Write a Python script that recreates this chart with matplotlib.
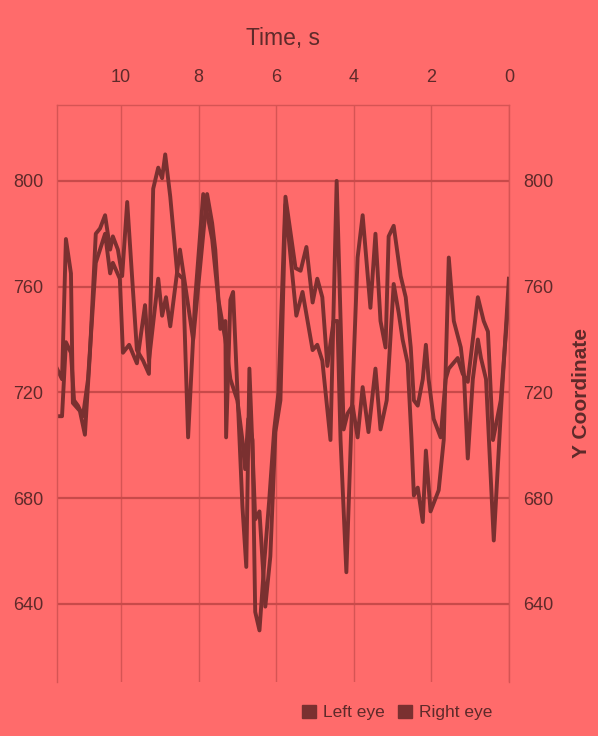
import matplotlib
matplotlib.use("Agg")
import matplotlib.pyplot as plt
from matplotlib.patches import Patch

plt.rcParams['font.family'] = ['Liberation Sans', 'DejaVu Sans']

# eye tracking, time in s / y coordinate in px
left_t = [0.00, 0.21, 0.39, 0.59, 0.72, 0.80, 0.93, 1.06, 1.16, 1.24, 1.42, 1.55, 1.68, 1.81,
          2.02, 2.14, 2.22, 2.35, 2.45, 2.51, 2.61, 2.74, 2.84, 2.97, 3.15, 3.31, 3.44, 3.62,
          3.77, 3.90, 4.03, 4.16, 4.26, 4.44, 4.60, 4.81, 4.94, 5.06, 5.19, 5.32, 5.48, 5.76,
          5.89, 6.02, 6.15, 6.28, 6.43, 6.54, 6.69, 6.77, 6.87, 7.11, 7.18, 7.29, 7.31, 7.44,
          7.57, 7.65, 7.78, 8.14, 8.48, 8.73, 8.84, 8.94, 9.04, 9.28, 9.38, 9.59, 9.79, 9.95,
          10.03, 10.21, 10.28, 10.41, 10.65, 10.85, 10.98, 11.11, 11.21, 11.29, 11.42, 11.52, 11.65]
left_y = [763, 712, 664, 725, 733, 740, 725, 695, 727, 737, 747, 771, 702, 683,
          675, 698, 671, 684, 681, 702, 731, 740, 750, 761, 717, 706, 729, 705,
          722, 703, 715, 712, 706, 800, 702, 732, 738, 736, 747, 758, 749, 791,
          717, 705, 658, 639, 675, 672, 729, 654, 677, 758, 755, 703, 747, 744,
          774, 784, 795, 740, 774, 745, 756, 749, 763, 732, 753, 731, 738, 735,
          763, 769, 765, 780, 769, 725, 711, 715, 717, 735, 739, 711, 711]

right_t = [0.00, 0.21, 0.41, 0.54, 0.65, 0.80, 1.06, 1.19, 1.32, 1.55, 1.63, 1.76, 1.94, 2.07,
           2.14, 2.22, 2.35, 2.45, 2.53, 2.66, 2.79, 2.97, 3.10, 3.18, 3.31, 3.44, 3.57, 3.77,
           3.90, 4.03, 4.19, 4.34, 4.42, 4.52, 4.68, 4.81, 4.94, 5.06, 5.22, 5.37, 5.50, 5.76,
           5.94, 6.05, 6.18, 6.30, 6.43, 6.54, 6.61, 6.72, 6.80, 6.87, 7.00, 7.18, 7.31, 7.49,
           7.65, 7.88, 8.09, 8.27, 8.40, 8.55, 8.73, 8.86, 8.94, 9.04, 9.17, 9.28, 9.43, 9.59,
           9.72, 9.84, 9.97, 10.08, 10.21, 10.28, 10.41, 10.54, 10.65, 10.80, 10.93, 11.06, 11.24,
           11.29, 11.42, 11.52, 11.65]
right_y = [757, 717, 702, 743, 747, 756, 724, 727, 733, 729, 725, 703, 710, 725,
           738, 725, 715, 717, 737, 756, 764, 783, 779, 737, 747, 780, 752, 787,
           771, 721, 652, 702, 747, 747, 730, 756, 763, 754, 775, 766, 767, 794,
           720, 706, 679, 657, 630, 637, 702, 710, 691, 702, 717, 725, 740, 755,
           778, 795, 755, 703, 763, 765, 794, 810, 801, 805, 797, 727, 732, 736,
           765, 792, 764, 774, 779, 774, 787, 782, 780, 735, 704, 713, 716,
           765, 778, 725, 729]

x_ticks = [0, 2, 4, 6, 8, 10]
y_ticks = [640, 680, 720, 760, 800]

bg = '#ff6b6b'
line_c = '#7a3030'
text_c = '#5e2a2a'
grid_c = '#d65454'

fig = plt.figure(figsize=(5.98, 7.36), dpi=100, facecolor=bg)
ax = fig.add_axes([0.0953, 0.0734, 0.7557, 0.7840])
ax.set_facecolor(bg)

ax.plot(left_t, left_y, color=line_c, lw=2.8, solid_joinstyle='round')
ax.plot(right_t, right_y, color=line_c, lw=2.8, solid_joinstyle='round')

ax.set_xlim(11.65, 0)
ax.set_ylim(610.5, 828.7)
ax.set_xticks(x_ticks)
ax.set_yticks(y_ticks)

ax.xaxis.tick_top()
ax.xaxis.set_label_position('top')
ax.set_xlabel('Time, s', fontsize=16.5, color=text_c, labelpad=17)
ax.yaxis.set_label_position('right')
ax.set_ylabel('Y Coordinate', fontsize=15, color=text_c, labelpad=14, fontweight='bold')

ax.tick_params(axis='x', length=0, pad=14, labelsize=13, colors=text_c)
ax.tick_params(axis='y', length=0, pad=10, labelsize=13, colors=text_c,
               left=False, right=False, labelleft=True, labelright=True)

ax.grid(axis='y', color='#c84a4a', lw=1.6)
ax.grid(axis='x', color=grid_c, lw=1.0)
ax.set_axisbelow(True)

ax.spines['bottom'].set_visible(False)
for side in ['top', 'left', 'right']:
    ax.spines[side].set_color(grid_c)
    ax.spines[side].set_linewidth(1.0)

handles = [Patch(color=line_c, label='Left eye'), Patch(color=line_c, label='Right eye')]
fig.legend(handles=handles, loc='lower right', bbox_to_anchor=(0.85, 0.0), ncol=2,
           frameon=False, fontsize=12.5, labelcolor=text_c, handlelength=0.8,
           handleheight=0.8, handletextpad=0.4, columnspacing=0.8)

fig.savefig('out.png', dpi=100, facecolor=bg)
